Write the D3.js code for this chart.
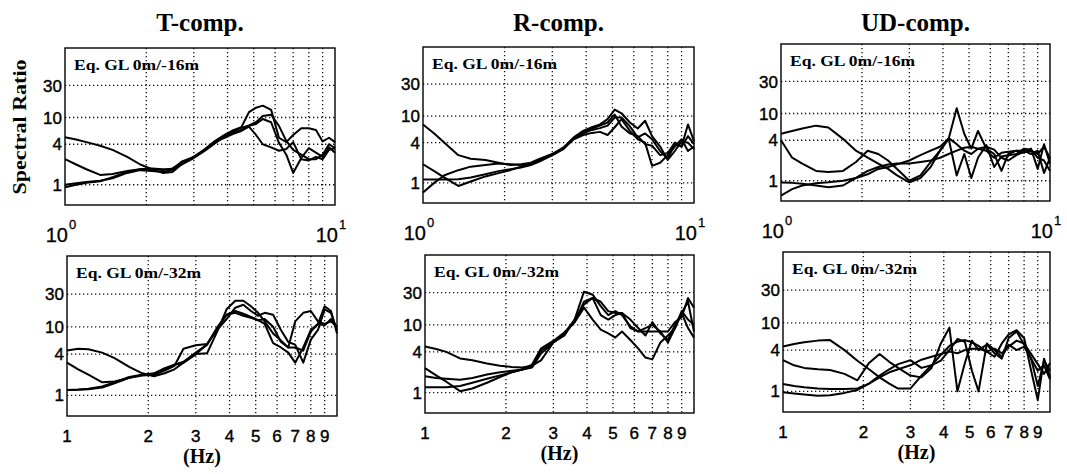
<!DOCTYPE html>
<html><head><meta charset="utf-8">
<script src="https://cdn.jsdelivr.net/npm/d3@7/dist/d3.min.js"></script>
<style>
body{margin:0;background:#fff;}
svg{display:block;}
</style></head>
<body>
<svg id="chart" width="1067" height="474"></svg>
<script>
// ---------- DATA ----------
const freqs = [1, 1.1, 1.2, 1.35, 1.5, 1.7, 1.9, 2.1, 2.3, 2.5, 2.7, 3.0, 3.3, 3.6, 3.9, 4.2, 4.5, 4.8, 5.1, 5.4, 5.8, 6.2, 6.6, 7.0, 7.5, 8.0, 8.5, 9.0, 9.5, 10];

const compTitles = ["T-comp.", "R-comp.", "UD-comp."];
const rowLabels = ["Eq. GL 0m/-16m", "Eq. GL 0m/-32m"];
const yTicks = [1, 4, 10, 30];
const yTickLabels = ["1", "4", "10", "30"];
const xGrid = [2, 3, 4, 5, 6, 7, 8, 9];
const xTicksBottom = [1, 2, 3, 4, 5, 6, 7, 8, 9];
const xEndLabels = [1, 10];

// T-comp, GL 0m/-16m
const tTopA = [5.1,4.7,4.3,3.8,3.3,2.6,2.0,1.7,1.65,1.75,2.1,2.6,3.4,4.5,5.5,6.5,7.2,12,14,15,13,5.0,4.3,5.5,6.9,6.9,6.5,4.4,5.0,4.3];
const tTopB = [2.4,2.0,1.7,1.4,1.45,1.6,1.7,1.75,1.7,1.7,2.2,2.6,3.3,4.2,5.3,6.3,7.0,7.6,8.5,10.5,11,7.5,4.5,3.3,2.8,2.4,2.4,2.8,4.0,3.5];
const tTopC = [0.92,1.0,1.07,1.13,1.3,1.55,1.7,1.7,1.5,1.55,2.0,2.5,3.2,4.2,5.2,6.0,6.5,7.5,8.0,9.5,8.5,4.2,2.8,1.5,2.5,3.5,3.0,2.6,3.6,3.0];
const tTopD = [1.0,1.05,1.1,1.15,1.25,1.5,1.65,1.6,1.55,1.65,2.0,2.6,3.3,4.4,5.0,5.7,6.3,7.3,5.5,4.0,3.6,3.2,3.4,4.3,2.4,2.3,2.6,2.4,3.3,3.5];
// T-comp, GL 0m/-32m
const tBotA = [4.5,4.8,4.7,4.2,3.5,2.6,2.1,1.9,2.1,2.4,3.0,4.0,5.5,9.5,15,17,15.5,14,12.5,13,10,6.0,5.0,5.0,4.5,8.5,11,10.5,13,10];
const tBotB = [3.0,2.4,2.0,1.55,1.6,1.8,2.0,2.0,2.3,2.7,4.8,5.4,5.6,9.0,13,19,21,17,14.5,16,15,9,6,5.5,3.0,6.5,9,18,16,9];
const tBotC = [1.2,1.22,1.25,1.35,1.55,1.85,2.0,2.1,2.5,2.8,3.0,4.0,4.1,8.5,18,24,24,20,16,12,8,6.3,5.0,12,16,17,12,11,12,10];
const tBotD = [1.2,1.21,1.23,1.3,1.5,1.8,1.95,2.0,2.4,2.8,3.1,4.2,5.5,9.8,15,16,14.5,13.5,12.5,11,5.8,5,4.2,3.0,5.0,9.0,11,20,17,8];
// R-comp, GL 0m/-16m
const rTopA = [7.5,5.5,4.0,2.6,2.3,2.2,2.0,1.85,1.9,2.0,2.3,2.7,3.4,4.8,6.0,6.8,7.5,9,12.5,11,8,6.5,8.5,5,3.5,2.2,3.0,4.2,4.0,3.2];
const rTopB = [1.9,1.5,1.2,0.9,1.05,1.25,1.4,1.55,1.75,1.9,2.2,2.6,3.2,4.6,5.5,6.2,6.6,7.2,9.5,9.5,7,4.8,5.5,4.5,3.0,2.3,3.8,3.5,7.5,4.2];
const rTopC = [1.12,1.12,1.12,1.13,1.2,1.35,1.5,1.6,1.7,1.85,2.1,2.6,3.3,4.5,5.2,5.6,5.8,5.2,6.8,9.0,6.0,4.5,4.0,1.8,2.0,2.6,3.5,4.5,3.0,3.5];
const rTopD = [0.72,1.0,1.3,1.55,1.75,1.85,1.95,1.9,1.85,1.95,2.2,2.7,3.3,4.7,5.8,6.5,7.2,8,10.5,7,5.5,5.0,3.8,3.6,2.6,2.8,4.0,3.5,5.0,3.8];
// R-comp, GL 0m/-32m
const rBotA = [4.8,4.4,4.0,3.2,3.0,2.7,2.5,2.4,2.35,2.5,3.0,5.5,7.5,12,31,28,19,14,16,14,9.5,8,8,8,8,8,11,13,25,18];
const rBotB = [2.3,1.8,1.45,1.05,1.15,1.4,1.7,2.0,2.2,2.4,4.2,5.5,7.5,11,22,25,22,16,15,15,12,9,7,11,7.5,6,10,15,22,8];
const rBotC = [1.75,1.65,1.6,1.55,1.65,1.85,2.0,2.1,2.2,2.35,3.8,5.5,7.0,12,20,25,14,12,14,15,9,8,9,10,8,5.5,9,16,12,10];
const rBotD = [1.2,1.2,1.2,1.25,1.4,1.6,1.8,2.0,2.2,2.6,4.5,5.8,7.8,11,18,12,8.5,7.5,6.5,8,6,4.5,3.3,3.1,5.5,7,9,15,9,6.5];
// UD-comp, GL 0m/-16m
const uTopA = [5.0,5.5,6.0,6.6,6.2,4.2,2.8,2.2,1.8,1.5,1.2,0.95,1.1,1.6,2.8,4.3,3.5,2.8,2.5,3.0,2.8,2.2,2.6,2.7,2.8,2.8,2.5,2.8,1.3,2.2];
const uTopB = [4.0,2.2,1.8,1.4,1.35,1.4,1.9,2.8,2.5,2.0,1.5,1.0,1.2,1.9,2.8,4.2,12,5,3,5.5,3,2.5,1.4,2.5,2.8,2.6,3.0,1.5,3.5,1.8];
const uTopC = [0.94,0.93,0.9,0.85,0.8,0.85,1.1,1.4,1.6,1.75,1.8,1.8,1.9,2.0,2.2,2.5,2.8,3.1,3.2,3.0,3.2,2.9,2.2,2.0,2.4,2.7,2.8,2.5,3.2,2.2];
const uTopD = [0.6,0.75,0.85,0.92,0.95,1.0,1.1,1.25,1.5,1.6,1.75,2.0,2.4,2.8,3.2,4.2,1.2,2.5,1.1,2.2,3.4,1.6,2.3,2.4,2.5,3.0,2.9,2.2,2.0,1.4];
// UD-comp, GL 0m/-32m
const uBotA = [4.5,4.9,5.2,5.5,5.6,4.0,2.8,2.1,1.6,1.3,1.1,1.1,1.7,2.4,3.4,4.6,5.3,5.6,5.2,4.6,3.8,4.2,3.6,4.5,5.5,5.0,3.5,2.5,1.8,2.6];
const uBotB = [2.85,2.4,2.2,2.1,2.05,1.8,1.45,2.6,3.5,2.7,2.2,1.7,1.6,2.2,5.0,8.5,1.0,2.6,5.5,4.0,4.8,3.6,3.0,6.0,7.5,4.8,3.0,1.2,2.8,2.0];
const uBotC = [1.28,1.2,1.15,1.1,1.08,1.08,1.1,1.3,1.7,2.1,2.5,2.85,2.2,2.4,2.8,4.0,5.8,5.3,2.0,1.0,5.0,4.0,3.2,4.8,4.0,4.5,3.0,2.0,2.4,1.5];
const uBotD = [0.97,0.93,0.9,0.86,0.88,0.95,1.05,1.3,1.6,1.9,2.1,2.4,2.9,3.2,3.5,3.8,3.6,4.0,4.2,4.2,3.8,3.2,5.0,6.8,7.8,6.0,2.0,0.75,3.0,1.6];

const panelSeries = [
  [[tTopA, tTopB, tTopC, tTopD], [rTopA, rTopB, rTopC, rTopD], [uTopA, uTopB, uTopC, uTopD]],
  [[tBotA, tBotB, tBotC, tBotD], [rBotA, rBotB, rBotC, rBotD], [uBotA, uBotB, uBotC, uBotD]]
];

// ---------- LAYOUT ----------
const boxes = [
  [{x:65,y:48,w:270,h:157},{x:423,y:47,w:271,h:156},{x:781,y:44,w:269,h:157}],
  [{x:67,y:256,w:270,h:160},{x:425,y:255,w:269,h:158},{x:783,y:252,w:267,h:160}]
];

const svg = d3.select("#chart");
const serif = "'Liberation Serif','Times New Roman',serif";
const sans = "'Liberation Sans',Arial,sans-serif";

// column titles
compTitles.forEach((t, c) => {
  const b = boxes[0][c];
  svg.append("text").attr("x", b.x + b.w/2).attr("y", 31)
    .attr("text-anchor","middle").attr("font-family",serif).attr("font-weight","bold")
    .attr("font-size",25).text(t);
});

// y axis label
svg.append("text")
  .attr("transform","translate(26,127) rotate(-90)")
  .attr("text-anchor","middle").attr("font-family",serif).attr("font-weight","bold")
  .attr("font-size",18).attr("textLength",135).attr("lengthAdjust","spacingAndGlyphs")
  .text("Spectral Ratio");

boxes.forEach((row, r) => {
  row.forEach((b, c) => {
    const x = d3.scaleLog().domain([1,10]).range([b.x, b.x + b.w]);
    const y = d3.scaleLog().domain([0.5,108]).range([b.y + b.h, b.y]);
    const g = svg.append("g");

    // grid
    g.selectAll(".hg").data(yTicks).join("line")
      .attr("x1", b.x).attr("x2", b.x + b.w)
      .attr("y1", d => y(d)).attr("y2", d => y(d))
      .attr("stroke","#111").attr("stroke-width",1.3).attr("stroke-dasharray","1.3,2.7");
    g.selectAll(".vg").data(xGrid).join("line")
      .attr("x1", d => x(d)).attr("x2", d => x(d))
      .attr("y1", b.y).attr("y2", b.y + b.h)
      .attr("stroke","#111").attr("stroke-width",1.3).attr("stroke-dasharray","1.3,2.7");

    // curves
    const line = d3.line().x((d,i) => x(freqs[i])).y(d => y(d));
    g.selectAll(".crv").data(panelSeries[r][c]).join("path")
      .attr("d", d => line(d)).attr("fill","none")
      .attr("stroke","#000").attr("stroke-width",2).attr("stroke-linejoin","round");

    // box
    g.append("rect").attr("x",b.x).attr("y",b.y).attr("width",b.w).attr("height",b.h)
      .attr("fill","none").attr("stroke","#000").attr("stroke-width",1.4);

    // label
    g.append("text").attr("x", b.x + 9).attr("y", b.y + 22)
      .attr("font-family",serif).attr("font-weight","bold").attr("font-size",15)
      .attr("textLength",125).attr("lengthAdjust","spacingAndGlyphs")
      .text(rowLabels[r]);

    // y tick labels
    g.selectAll(".yl").data(yTicks).join("text")
      .attr("x", b.x - 3).attr("y", d => y(d)).attr("dy","0.36em")
      .attr("text-anchor","end").attr("font-family",sans).attr("font-size",17)
      .attr("stroke","#000").attr("stroke-width",0.4)
      .text((d,i) => yTickLabels[i]);

    if (r === 0) {
      g.selectAll(".xl").data(xEndLabels).join("text")
        .attr("x", d => x(d) - 4).attr("y", b.y + b.h + 37)
        .attr("text-anchor","middle").attr("font-family",sans).attr("font-size",20)
        .attr("stroke","#000").attr("stroke-width",0.3)
        .each(function(d){
          const t = d3.select(this);
          t.append("tspan").text("10");
          t.append("tspan").attr("font-size",13).attr("dy",-13).attr("dx",1).text(Math.round(Math.log10(d)));
        });
    } else {
      g.selectAll(".xl").data(xTicksBottom).join("text")
        .attr("x", d => x(d)).attr("y", b.y + b.h + 26)
        .attr("text-anchor","middle").attr("font-family",sans).attr("font-size",17)
        .attr("stroke","#000").attr("stroke-width",0.4)
        .text(d => d);
      g.append("text").attr("x", b.x + b.w/2).attr("y", b.y + b.h + 47)
        .attr("text-anchor","middle").attr("font-family",serif).attr("font-weight","bold")
        .attr("font-size",20).text("(Hz)");
    }
  });
});
</script>
</body></html>
